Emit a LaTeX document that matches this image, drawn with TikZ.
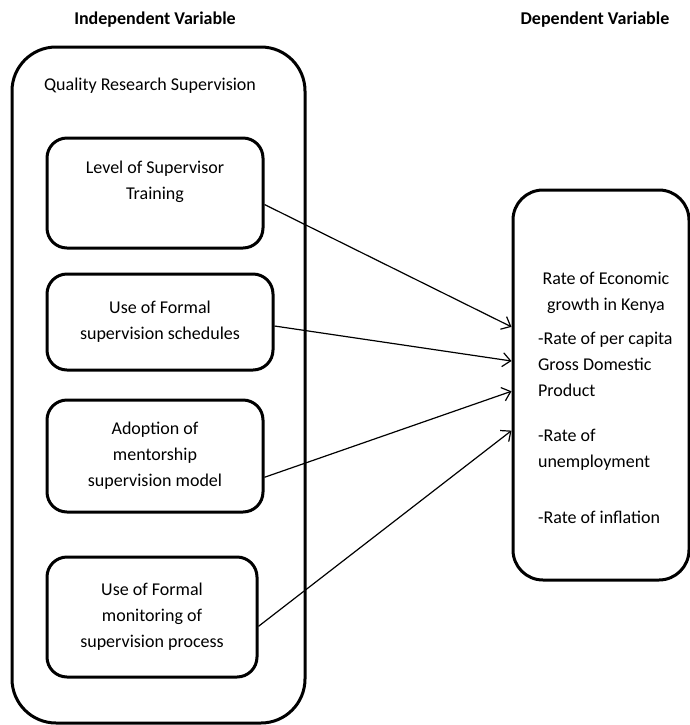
\documentclass[tikz,border=0pt]{standalone}
\usepackage{fontspec}
\setmainfont{Carlito}
\usetikzlibrary{arrows.meta}

\begin{document}
\begin{tikzpicture}[x=0.5pt,y=-0.5pt,every node/.style={font=\fontsize{9}{13}\selectfont, align=center},
	head/.style={font=\fontsize{9}{13}\selectfont\bfseries},
	frame/.style={draw, line width=1.5pt, rounded corners=22pt, minimum width=146.5pt, minimum height=338pt},
	box/.style={draw, line width=1.5pt, rounded corners=10pt, inner sep=0pt},
	link/.style={-{Straight Barb[length=4pt,width=7pt]}, line width=0.6pt}]
	
	\useasboundingbox (0,0) rectangle (690,725);
	
	\node[head] (iv) at (155,20) {Independent Variable};
	\node[head] (dv) at (595,20) {Dependent Variable};
	
	\node[frame] (qrs) at (158.5,385) {};
	\node (qrslabel) at (150,86) {Quality Research Supervision};
	
	\node[box, minimum width=108pt, minimum height=55pt] (train) at (155,193) {Level of Supervisor\\Training\\~};
	\node[box, minimum width=113pt, minimum height=48pt] (sched) at (160,322) {Use of Formal\\supervision schedules};
	\node[box, minimum width=108pt, minimum height=56pt] (mentor) at (155,456) {Adoption of\\mentorship\\supervision model};
	\node[box, minimum width=105pt, minimum height=60pt] (monitor) at (152,617) {Use of Formal\\monitoring of\\supervision process};
	
	\node[box, rounded corners=15pt, minimum width=88pt, minimum height=195pt] (growth) at (601,385) {};
	\node (growthtitle) at (606,293) {Rate of Economic\\growth in Kenya};
	\node[anchor=west, align=left] (gdp) at (531,364) {-Rate of per capita\\Gross Domestic\\Product};
	\node[anchor=west, align=left] (unemp) at (531,450) {-Rate of\\unemployment};
	\node[anchor=west] (infl) at (531,517) {-Rate of inflation};
	
	\draw[link] (train.-6) -- (growth.147);
	\draw[link] (sched.-2.5) -- (growth.165);
	\draw[link] (mentor.-11.5) -- (growth.184.5);
	\draw[link] (monitor.-5.4) -- (growth.207);
	
\end{tikzpicture}
\end{document}
